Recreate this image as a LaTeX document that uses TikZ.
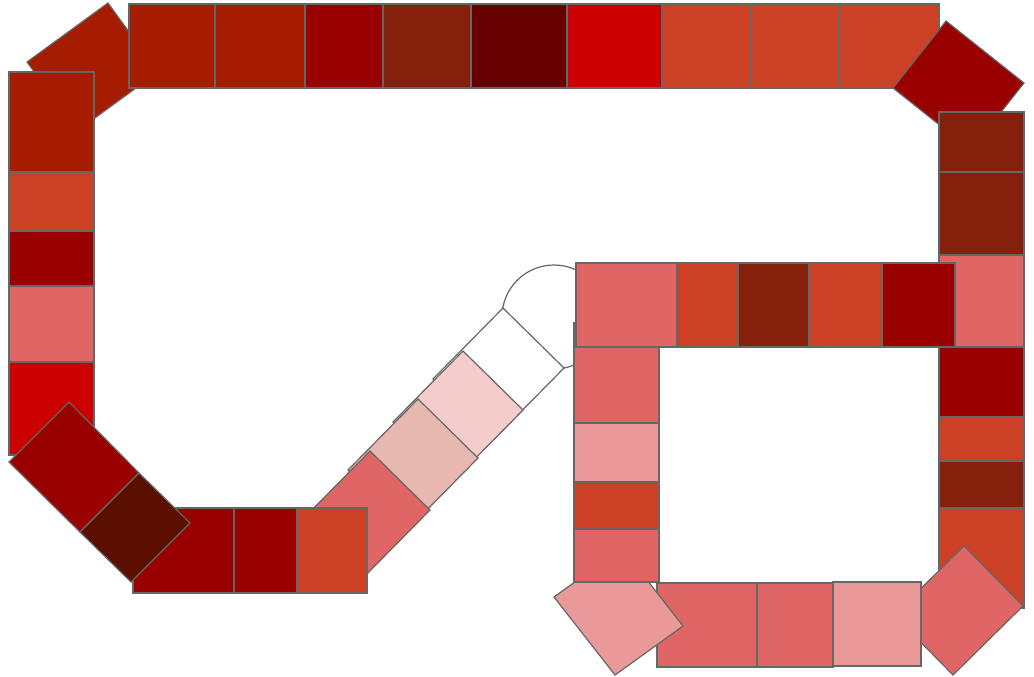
\documentclass[tikz,border=0pt]{standalone}
\usepackage{tikz}

\definecolor{tilegray}{HTML}{666666}
\definecolor{berryA}{HTML}{A61C00}
\definecolor{berryB}{HTML}{85200C}
\definecolor{berryC}{HTML}{5B0F00}
\definecolor{redA}{HTML}{CC0000}
\definecolor{redB}{HTML}{990000}
\definecolor{redC}{HTML}{660000}
\definecolor{rust}{HTML}{CC4125}
\definecolor{pinkA}{HTML}{E06666}
\definecolor{pinkB}{HTML}{EA9999}
\definecolor{pinkC}{HTML}{F4CCCC}
\definecolor{blush}{HTML}{E6B8AF}

\begin{document}
\begin{tikzpicture}[x=0.75pt,y=-0.75pt,
  tile/.style={draw=tilegray,line width=0.9pt}]
\useasboundingbox (0,0) rectangle (1034,676);

% outer track, top
\draw [tile,fill=berryA] (27,62) -- (108,3) -- (158,72) -- (77,131) -- cycle;
\draw [tile,fill=berryA] (129,4) rectangle (215,88);
\draw [tile,fill=berryA] (215,4) rectangle (305,88);
\draw [tile,fill=redB] (305,4) rectangle (383,88);
\draw [tile,fill=berryB] (383,4) rectangle (471,88);
\draw [tile,fill=redC] (471,4) rectangle (567,88);
\draw [tile,fill=redA] (567,4) rectangle (662,88);
\draw [tile,fill=rust] (662,4) rectangle (751,88);
\draw [tile,fill=rust] (751,4) rectangle (839,88);
\draw [tile,fill=rust] (839,4) rectangle (939,88);
\draw [tile,fill=redB] (893,88) -- (946,21) -- (1024,83) -- (971,150) -- cycle;

% outer track, right
\draw [tile,fill=berryB] (939,112) rectangle (1024,172);
\draw [tile,fill=berryB] (939,172) rectangle (1024,255);
\draw [tile,fill=pinkA] (939,255) rectangle (1024,347);
\draw [tile,fill=redB] (939,347) rectangle (1024,417);
\draw [tile,fill=rust] (939,417) rectangle (1024,461);
\draw [tile,fill=berryB] (939,461) rectangle (1024,508);
\draw [tile,fill=rust] (939,508) rectangle (1024,608);
\draw [tile,fill=pinkA] (964,546) -- (1023,606) -- (953,675) -- (894,615) -- cycle;

% outer track, left
\draw [tile,fill=berryA] (9,72) rectangle (94,172);
\draw [tile,fill=rust] (9,172) rectangle (94,231);
\draw [tile,fill=redB] (9,231) rectangle (94,286);
\draw [tile,fill=pinkA] (9,286) rectangle (94,362);
\draw [tile,fill=redA] (9,362) rectangle (94,455);

% ramp
\draw [tile,fill=white] (554,317) circle [radius=52];
\draw [tile,fill=white] (503,308) -- (564,368) -- (494,439) -- (433,379) -- cycle;
\draw [tile,fill=pinkC] (463,351) -- (523,410) -- (453,481) -- (393,422) -- cycle;
\draw [tile,fill=blush] (418,399) -- (478,458) -- (408,529) -- (348,470) -- cycle;
\draw [tile,fill=pinkA] (370,451) -- (430,510) -- (360,581) -- (300,522) -- cycle;

% outer track, bottom
\draw [tile,fill=redB] (133,508) rectangle (234,593);
\draw [tile,fill=redB] (234,508) rectangle (297,593);
\draw [tile,fill=rust] (297,508) rectangle (367,593);
\draw [tile,fill=redB] (9,462) -- (69,402) -- (139,473) -- (80,532) -- cycle;
\draw [tile,fill=berryC] (80,532) -- (139,473) -- (190,523) -- (131,582) -- cycle;

% inner loop
\draw [tile,fill=pinkA] (657,583) rectangle (757,667);
\draw [tile,fill=pinkA] (757,583) rectangle (833,667);
\draw [tile,fill=pinkB] (833,582) rectangle (921,666);
\draw [tile,fill=pinkB] (554,597) -- (622,548) -- (683,626) -- (615,675) -- cycle;
\draw [tile,fill=pinkA] (574,323) rectangle (659,423);
\draw [tile,fill=pinkB] (574,423) rectangle (659,482);
\draw [tile,fill=rust] (574,482) rectangle (659,529);
\draw [tile,fill=pinkA] (574,529) rectangle (659,582);
\draw [tile,fill=pinkA] (576,263) rectangle (677,347);
\draw [tile,fill=rust] (677,263) rectangle (738,347);
\draw [tile,fill=berryB] (738,263) rectangle (809,347);
\draw [tile,fill=rust] (809,263) rectangle (882,347);
\draw [tile,fill=redB] (882,263) rectangle (955,347);
\end{tikzpicture}
\end{document}
